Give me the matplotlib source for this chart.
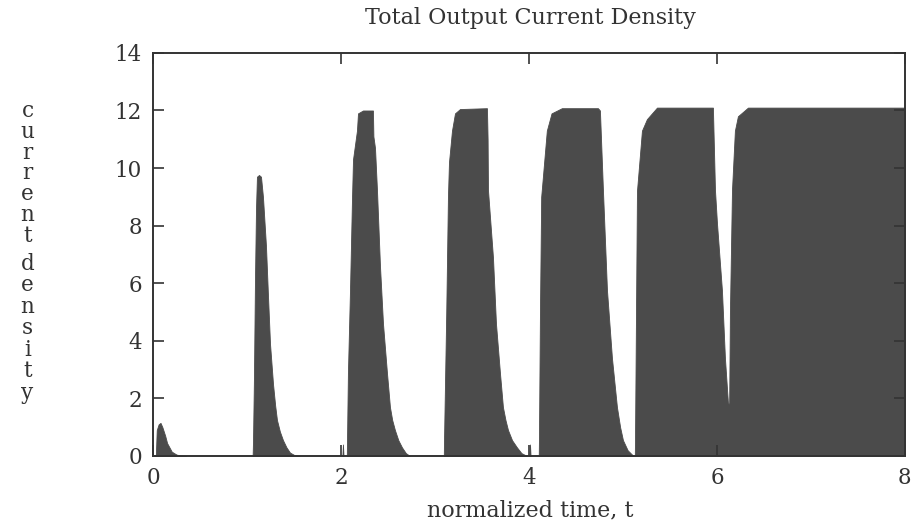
#!/usr/bin/env python3

import numpy as np
import matplotlib
matplotlib.use("Agg")
import matplotlib.pyplot as plt


# -----------------------------
# Data (envelope of the output current)
# -----------------------------
PULSE0_T = [0.0, 0.03, 0.04, 0.06, 0.08, 0.10, 0.13, 0.15, 0.20, 0.25, 0.29, 0.35]
PULSE0_Y = [0.0, 0.0, 0.9, 1.1, 1.15, 1.0, 0.7, 0.45, 0.15, 0.05, 0.02, 0.0]

PULSE1_T = [1.06, 1.064, 1.074, 1.085, 1.096, 1.106, 1.128, 1.149, 1.170,
            1.202, 1.223, 1.245, 1.277, 1.300, 1.319, 1.350, 1.383, 1.42,
            1.457, 1.50, 1.56]
PULSE1_Y = [0.0, 0.5, 2.7, 6.1, 8.6, 9.7, 9.76, 9.7, 9.0,
            7.3, 5.6, 3.9, 2.5, 1.75, 1.25, 0.85, 0.55, 0.3,
            0.12, 0.04, 0.0]

SPIKE1_T = [2.015, 2.021, 2.027]
SPIKE1_Y = [0.0, 0.4, 0.0]

PULSE2_T = [2.062, 2.064, 2.074, 2.096, 2.117, 2.128, 2.170, 2.181, 2.234,
            2.340, 2.345, 2.362, 2.383, 2.415, 2.447, 2.489, 2.521, 2.545,
            2.574, 2.61, 2.649, 2.69, 2.734]
PULSE2_Y = [0.0, 0.5, 2.9, 5.76, 8.9, 10.3, 11.3, 11.9, 12.0,
            12.0, 11.1, 10.7, 9.24, 6.6, 4.6, 2.9, 1.7, 1.25,
            0.9, 0.55, 0.3, 0.1, 0.0]

PULSE3_T = [3.094, 3.096, 3.12, 3.138, 3.149, 3.181, 3.213, 3.266, 3.553,
            3.56, 3.564, 3.617, 3.649, 3.691, 3.723, 3.75, 3.777, 3.82,
            3.872, 3.92, 3.979]
PULSE3_Y = [0.0, 0.5, 5.0, 9.0, 10.2, 11.3, 11.9, 12.05, 12.08,
            11.0, 9.24, 6.9, 4.6, 2.9, 1.7, 1.25, 0.9, 0.55,
            0.3, 0.1, 0.0]

SPIKE2_T = [4.005, 4.011, 4.017]
SPIKE2_Y = [0.0, 0.4, 0.0]

PULSE4_T = [4.104, 4.106, 4.117, 4.13, 4.19, 4.24, 4.35, 4.734,
            4.755, 4.787, 4.830, 4.883, 4.936, 4.97, 5.0, 5.05, 5.096, 5.12]
PULSE4_Y = [0.0, 0.5, 5.0, 9.0, 11.3, 11.9, 12.08, 12.08,
            12.0, 9.24, 5.76, 3.4, 1.7, 1.0, 0.55, 0.2, 0.05, 0.0]

PULSE56_T = [5.126, 5.128, 5.149, 5.202, 5.255, 5.362, 5.957, 5.979,
             6.0, 6.053, 6.085, 6.117, 6.13, 6.138, 6.16, 6.191, 6.223,
             6.33, 8.0]
PULSE56_Y = [0.0, 0.5, 9.2, 11.3, 11.7, 12.1, 12.1, 9.24,
             8.1, 5.76, 3.4, 1.84, 1.8, 5.0, 9.24, 11.3, 11.8,
             12.1, 12.1]

X_TICKS = [0, 2, 4, 6, 8]
Y_TICKS = [0, 2, 4, 6, 8, 10, 12, 14]

FILL = "#4b4b4b"
INK = "#333333"
FONT = "DejaVu Serif"


def main():
    plt.rcParams["font.family"] = [FONT]

    fig = plt.figure(figsize=(9.15, 5.29), dpi=100)
    ax = fig.add_axes([0.1672, 0.138, 0.8218, 0.762])

    pulses = [
        (PULSE0_T, PULSE0_Y), (PULSE1_T, PULSE1_Y), (SPIKE1_T, SPIKE1_Y),
        (PULSE2_T, PULSE2_Y), (PULSE3_T, PULSE3_Y), (SPIKE2_T, SPIKE2_Y),
        (PULSE4_T, PULSE4_Y), (PULSE56_T, PULSE56_Y),
    ]
    for t, y in pulses:
        ax.fill_between(t, 0, y, color=FILL, linewidth=0.6, edgecolor=FILL)

    ax.set_xlim(0, 8)
    ax.set_ylim(0, 14)
    ax.set_xticks(X_TICKS)
    ax.set_yticks(Y_TICKS)
    ax.tick_params(direction="in", length=8, width=1.2, colors=INK,
                   labelsize=15.5, top=True, right=True, pad=8)
    for s in ax.spines.values():
        s.set_linewidth(1.4)
        s.set_color(INK)

    fig.text(0.58, 1 - 18 / 529, "Total Output Current Density", ha="center",
             va="center", fontsize=16, color=INK)
    fig.text(0.58, 1 - 510 / 529, "normalized time, t", ha="center",
             va="center", fontsize=16, color=INK)

    # stacked vertical label
    fig.text(0.03, 1 - 100 / 529, "\n".join("current"), ha="center",
             va="top", fontsize=15.5, color=INK, linespacing=0.93)
    fig.text(0.03, 1 - 253 / 529, "\n".join("density"), ha="center",
             va="top", fontsize=15.5, color=INK, linespacing=0.97)

    fig.savefig("out.png", dpi=100, facecolor="white")


if __name__ == "__main__":
    main()
